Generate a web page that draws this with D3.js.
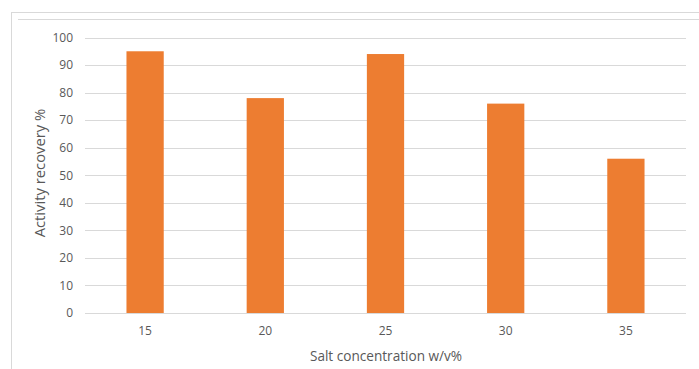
<!DOCTYPE html>
<html><head><meta charset="utf-8">
<script src="https://cdn.jsdelivr.net/npm/d3@7"></script>
<style>body{margin:0;background:#fff}svg{display:block;font-family:"Open Sans",sans-serif}</style>
</head><body><svg id="c" width="699" height="369"></svg>
<script>
const categories = ["15","20","25","30","35"];
const values = [95,78,94,76,56];
const yTicks = [0,10,20,30,40,50,60,70,80,90,100];

const svg = d3.select("#c");
// frame lines
svg.append("line").attr("x1",11).attr("x2",699).attr("y1",12.5).attr("y2",12.5).attr("stroke","#d9d9d9");
svg.append("line").attr("x1",11.5).attr("x2",11.5).attr("y1",12).attr("y2",369).attr("stroke","#d9d9d9");
svg.append("line").attr("x1",18).attr("x2",699).attr("y1",19.5).attr("y2",19.5).attr("stroke","#d9d9d9");

const x = d3.scaleBand().domain(categories).range([85,686]).paddingInner(0.69).paddingOuter(0.345);
const y = d3.scaleLinear().domain([0,100]).range([313,37.5]);

const g = svg.append("g");
g.selectAll("line.grid").data(yTicks).join("line").attr("class","grid")
  .attr("x1",85).attr("x2",686)
  .attr("y1",d=>Math.round(y(d))+0.5).attr("y2",d=>Math.round(y(d))+0.5)
  .attr("stroke","#d9d9d9").attr("stroke-width",1);

g.selectAll("rect").data(values).join("rect")
  .attr("x",(d,i)=>x(categories[i])).attr("width",x.bandwidth())
  .attr("y",d=>y(d)).attr("height",d=>y(0)-y(d)).attr("fill","#ED7D31");

const yAxis = d3.axisLeft(y).tickValues(yTicks).tickSize(0).tickPadding(0);
svg.append("g").attr("transform","translate(73,0)").call(yAxis)
  .call(a=>a.select(".domain").remove())
  .call(a=>a.selectAll("text").attr("fill","#595959").attr("font-size",12).attr("font-family","'Open Sans',sans-serif"));

const xAxis = d3.axisBottom(x).tickSize(0).tickPadding(0);
svg.append("g").attr("transform","translate(0,326)").call(xAxis)
  .call(a=>a.select(".domain").remove())
  .call(a=>a.selectAll("text").attr("fill","#595959").attr("font-size",12).attr("font-family","'Open Sans',sans-serif"));

svg.append("text").attr("x",386).attr("y",361).attr("text-anchor","middle")
  .attr("fill","#595959").attr("font-size",13.6).text("Salt concentration w/v%");
svg.append("text").attr("transform","translate(45,173) rotate(-90)").attr("text-anchor","middle")
  .attr("fill","#595959").attr("font-size",14.8).text("Activity recovery %");
</script></body></html>
